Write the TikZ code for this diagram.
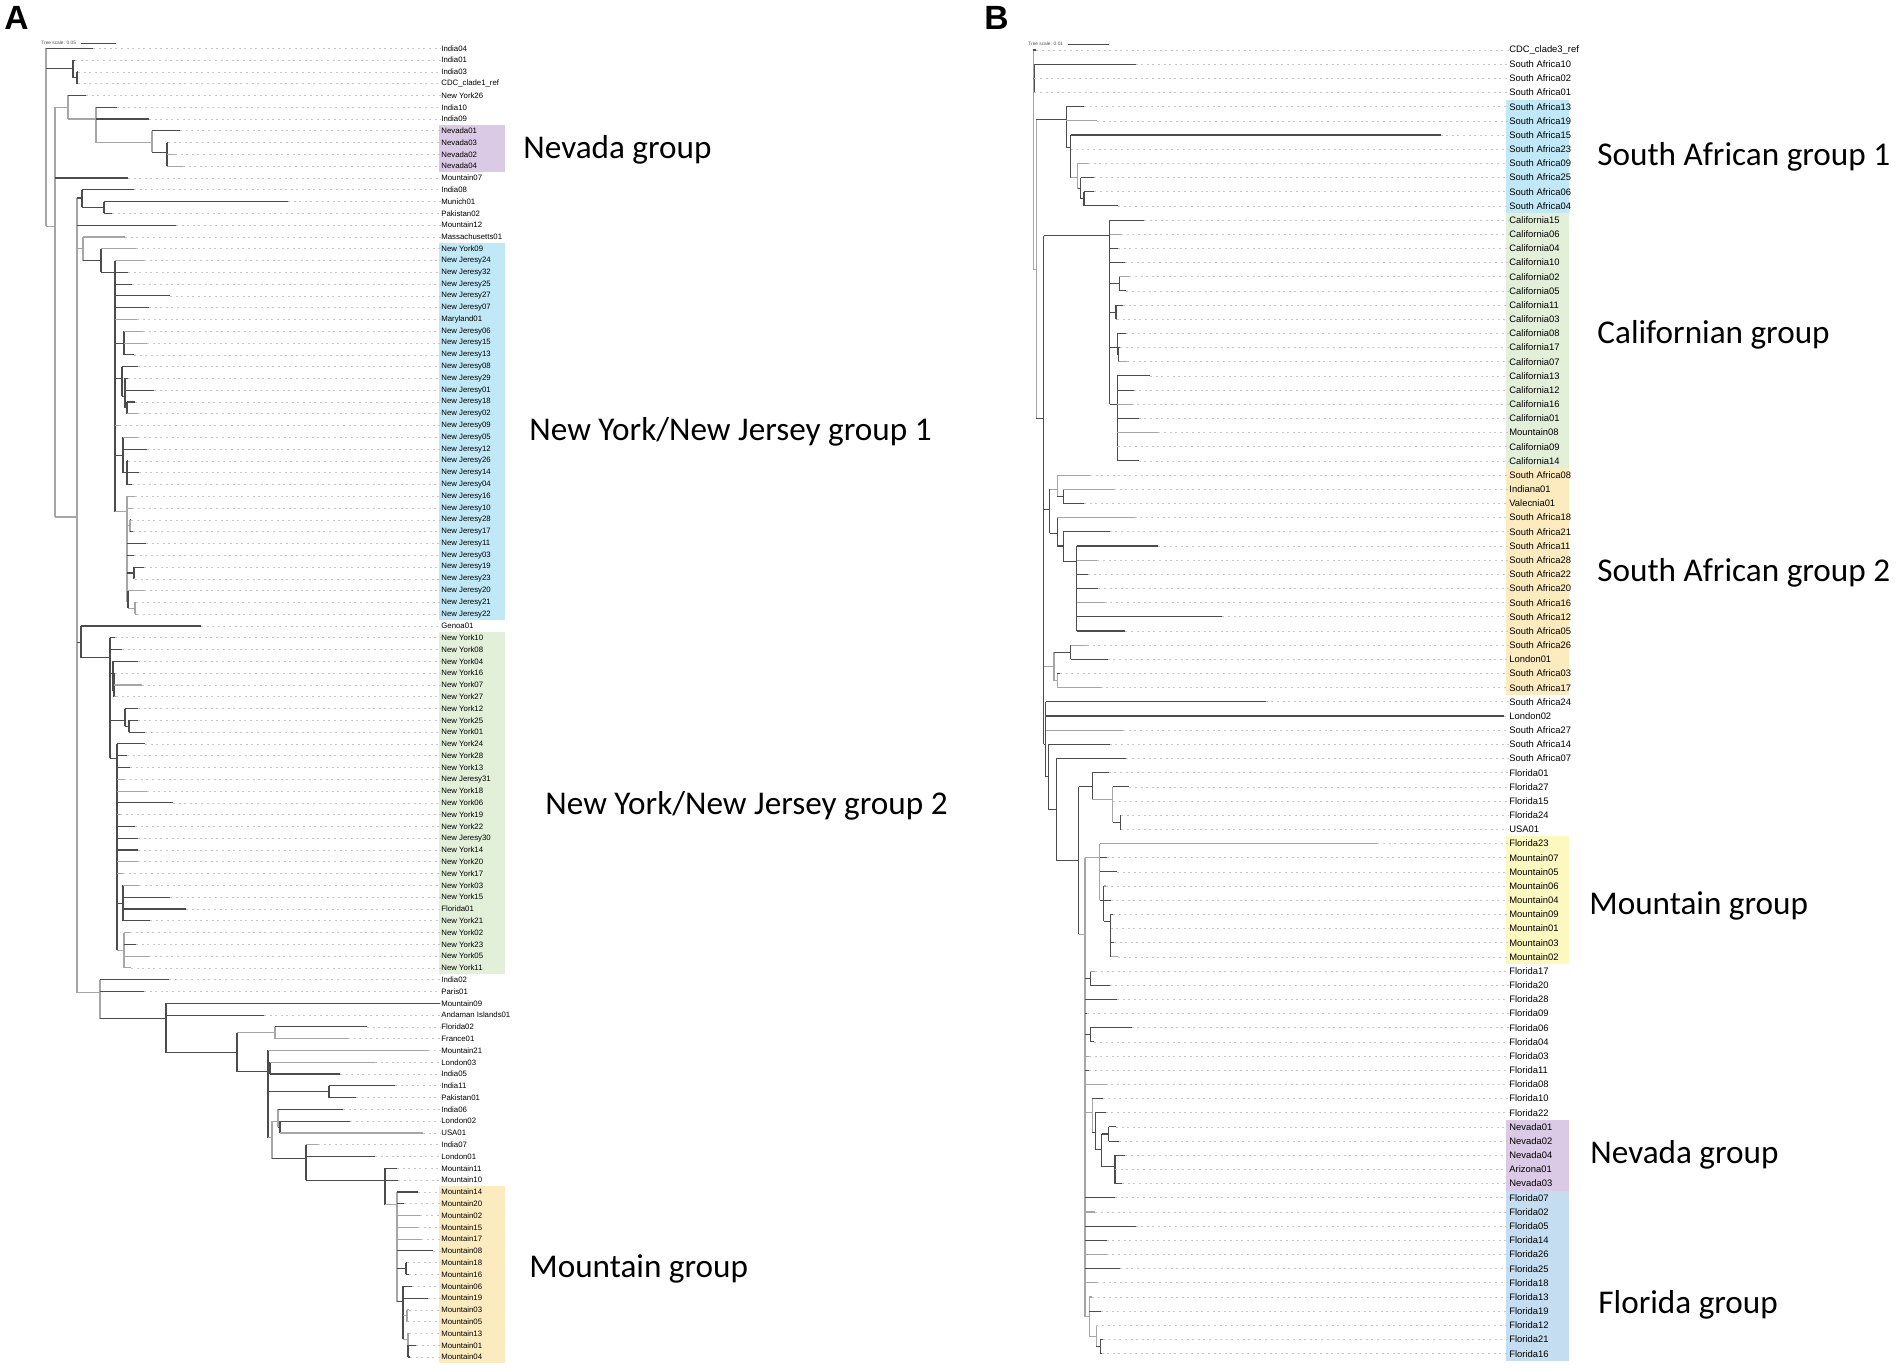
\documentclass[tikz,border=0pt]{standalone}
\usepackage{fontspec}
\setmainfont{Liberation Sans}
\newfontfamily\grpfont{Carlito}
\usetikzlibrary{positioning}

\definecolor{grpPurple}{HTML}{DBCAE5}
\definecolor{grpCyan}{HTML}{C0E8F6}
\definecolor{grpGreen}{HTML}{E2EFD9}
\definecolor{grpOrange}{HTML}{FDEBC0}
\definecolor{grpYellow}{HTML}{FCF8BF}
\definecolor{grpBlue}{HTML}{C5DDF0}

\tikzset{
  br/.style={draw=black!70, line width=0.55pt},
  brl/.style={draw=black!35, line width=0.55pt},
  dots/.style={draw=black!22, line width=0.35pt, dash pattern=on 1pt off 1.8pt},
  grp/.style={anchor=west, inner sep=0pt, font=\grpfont\fontsize{16.6}{18}\selectfont},
  panel/.style={anchor=west, inner sep=0pt, font=\bfseries\fontsize{16.8}{18}\selectfont},
  scaletxt/.style={anchor=west, inner sep=0pt, font=\fontsize{2.4}{3}\selectfont, text=black!70}
}

% leaf: [style]{name}{parent x}{tip x}{row}{text}
\newcommand{\lf}[6][br]{%
  \draw[#1] (#3,#5) -- (#4,#5);
  \node[leaf] (#2) at (\labx,#5) {#6};
  \draw[dots] (#4,#5) -- (#2.west);}
% clade: [style]{parent x}{x}{row}{top row}{bottom row}
\newcommand{\nd}[6][br]{%
  \draw[#1] (#2,#4) -- (#3,#4) (#3,#5) -- (#3,#6);}

\begin{document}
\begin{tikzpicture}[x=0.5pt, y=-0.5pt]
\useasboundingbox (0,0) rectangle (1902,1367);

\node[panel] (pA) at (4,18) {A};
\node[panel] (pB) at (984,18) {B};

\node[scaletxt] (scaleA) at (41,43) {Tree scale: 0.05};
\coordinate (scaleAend) at (116,43);
\draw[br, line width=0.4pt] ([xshift=2.5pt]scaleA.east) -- (scaleAend);
\node[scaletxt] (scaleB) at (1028,44) {Tree scale: 0.01};
\coordinate (scaleBend) at (1109,44);
\draw[br, line width=0.4pt] ([xshift=2.5pt]scaleB.east) -- (scaleBend);

%% panel A
\def\labx{441}
\begin{scope}[y=-5.895pt, yshift=-24.15pt, leaf/.style={anchor=west, inner sep=0pt, font=\fontsize{3.9}{4}\selectfont}]
\fill[grpPurple] (439.3,6.5) rectangle (505,10.5);
\fill[grpCyan] (439.3,16.5) rectangle (505,48.5);
\fill[grpGreen] (439.3,49.5) rectangle (505,78.5);
\fill[grpOrange] (439.3,96.5) rectangle (505,111.5);

\draw[brl] (46,0) -- (46,15.1);
\lf{aIndia04}{46}{93}{0}{India04}
\nd{46}{73}{1.75}{1}{2.5}
\lf{aIndia01}{73}{75}{1}{India01}
\nd{73}{77}{2.5}{2}{3}
\lf{aIndia03}{77}{78}{2}{India03}
\lf{aCDC}{77}{78}{3}{CDC\_clade1\_ref}
\nd[brl]{46}{55}{15.1}{5}{39.75}
\nd[brl]{55}{68}{5}{4}{6}
\lf{aNY26}{68}{86}{4}{New York26}
\nd[brl]{68}{96}{6}{5}{8}
\lf{aIndia10}{96}{117}{5}{India10}
\lf{aIndia09}{96}{149}{6}{India09}
\nd[brl]{96}{152}{8}{7}{8.8}
\lf{aNev01}{152}{180}{7}{Nevada01}
\nd{152}{167}{8.8}{8}{10}
\lf{aNev03}{167}{168}{8}{Nevada03}
\lf[brl]{aNev02}{167}{175}{9}{Nevada02}
\lf[brl]{aNev04}{167}{183}{10}{Nevada04}
\lf{aMtn07}{55}{128}{11}{Mountain07}
\nd[brl]{55}{77}{39.75}{12.7}{80.1}
\nd{77}{82}{12.7}{12}{13.5}
\lf{aIndia08}{82}{134}{12}{India08}
\nd{82}{104}{13.5}{13}{14}
\lf{aMunich01}{104}{288}{13}{Munich01}
\lf{aPak02}{104}{112}{14}{Pakistan02}
\lf{aMtn12}{77}{176}{15}{Mountain12}
\nd[brl]{77}{83}{17}{16}{18}
\lf[brl]{aMass01}{83}{125}{16}{Massachusetts01}
\nd{83}{101}{18}{17}{19}
\lf[brl]{aNY09}{101}{136}{17}{New York09}
\nd{101}{115}{19}{18}{39.3}
\lf[brl]{aNJ24}{115}{144}{18}{New Jeresy24}
\lf{aNJ32}{115}{128}{19}{New Jeresy32}
\lf{aNJ25}{115}{132}{20}{New Jeresy25}
\lf{aNJ27}{115}{170}{21}{New Jeresy27}
\lf{aNJ07}{115}{149}{22}{New Jeresy07}
\lf[brl]{aMD01}{115}{137}{23}{Maryland01}
\nd{115}{124}{25}{24}{26}
\lf[brl]{aNJ06}{124}{143}{24}{New Jeresy06}
\lf[brl]{aNJ15}{124}{147}{25}{New Jeresy15}
\lf{aNJ13}{124}{134}{26}{New Jeresy13}
\nd{115}{122}{28}{27}{29.5}
\lf{aNJ08}{122}{138}{27}{New Jeresy08}
\nd{122}{125}{29.5}{28}{30.5}
\lf{aNJ29}{125}{128}{28}{New Jeresy29}
\lf{aNJ01}{125}{154}{29}{New Jeresy01}
\nd{125}{127}{30.5}{30}{31}
\lf{aNJ18}{127}{135}{30}{New Jeresy18}
\lf[brl]{aNJ02}{127}{138}{31}{New Jeresy02}
\lf[brl]{aNJ09}{115}{119}{32}{New Jeresy09}
\nd{115}{123}{34.5}{33}{36}
\lf[brl]{aNJ05}{123}{138}{33}{New Jeresy05}
\lf{aNJ12}{123}{147}{34}{New Jeresy12}
\nd{123}{127}{36}{35}{37}
\lf{aNJ26}{127}{128}{35}{New Jeresy26}
\lf{aNJ14}{127}{139}{36}{New Jeresy14}
\lf{aNJ04}{127}{132}{37}{New Jeresy04}
\nd[brl]{115}{127}{39.3}{38}{47}
\lf[brl]{aNJ16}{127}{135}{38}{New Jeresy16}
\lf[brl]{aNJ10}{127}{132}{39}{New Jeresy10}
\nd[brl]{127}{130}{40.5}{40}{41}
\lf{aNJ28}{130}{131}{40}{New Jeresy28}
\lf{aNJ17}{130}{133}{41}{New Jeresy17}
\lf{aNJ11}{127}{146}{42}{New Jeresy11}
\lf{aNJ03}{127}{134}{43}{New Jeresy03}
\nd{127}{134}{44.5}{44}{45}
\lf{aNJ19}{134}{144}{44}{New Jeresy19}
\lf[brl]{aNJ23}{134}{135}{45}{New Jeresy23}
\nd{127}{128}{47}{46}{47.5}
\lf[brl]{aNJ20}{128}{144}{46}{New Jeresy20}
\nd[brl]{128}{135}{47.5}{47}{48}
\lf[brl]{aNJ21}{135}{136}{47}{New Jeresy21}
\lf[brl]{aNJ22}{135}{137}{48}{New Jeresy22}
\nd{77}{81}{50.4}{49}{51.7}
\lf{aGenoa01}{81}{201}{49}{Genoa01}
\nd{81}{110}{51.7}{50}{60.2}
\lf{aNY10}{110}{115}{50}{New York10}
\lf{aNY08}{110}{122}{51}{New York08}
\nd{110}{113}{53}{52}{54.5}
\lf{aNY04}{113}{138}{52}{New York04}
\nd{113}{114}{54.5}{53}{55}
\lf{aNY16}{114}{115}{53}{New York16}
\lf[brl]{aNY07}{114}{142}{54}{New York07}
\lf[brl]{aNY27}{114}{116}{55}{New York27}
\nd{110}{125}{57}{56}{57.5}
\lf{aNY12}{125}{138}{56}{New York12}
\nd{125}{129}{57.5}{57}{58}
\lf{aNY25}{129}{138}{57}{New York25}
\lf{aNY01}{129}{145}{58}{New York01}
\nd{110}{117}{60.2}{59}{76.5}
\lf{aNY24}{117}{145}{59}{New York24}
\lf{aNY28}{117}{127}{60}{New York28}
\lf{aNY13}{117}{130}{61}{New York13}
\lf[brl]{aNJ31}{117}{124}{62}{New Jeresy31}
\lf[brl]{aNY18}{117}{147}{63}{New York18}
\lf{aNY06}{117}{173}{64}{New York06}
\lf[brl]{aNY19}{117}{120}{65}{New York19}
\lf{aNY22}{117}{135}{66}{New York22}
\lf{aNJ30}{117}{138}{67}{New Jeresy30}
\lf{aNY14}{117}{138}{68}{New York14}
\lf[brl]{aNY20}{117}{138}{69}{New York20}
\lf[brl]{aNY17}{117}{123}{70}{New York17}
\nd{117}{123}{72.5}{71}{74}
\lf[brl]{aNY03}{123}{139}{71}{New York03}
\lf{aNY15}{123}{170}{72}{New York15}
\lf{aFL01}{123}{186}{73}{Florida01}
\lf{aNY21}{123}{150}{74}{New York21}
\nd[brl]{117}{124}{76.5}{75}{78}
\lf[brl]{aNY02}{124}{130}{75}{New York02}
\lf{aNY23}{124}{136}{76}{New York23}
\lf[brl]{aNY05}{124}{149}{77}{New York05}
\lf[brl]{aNY11}{124}{131}{78}{New York11}
\nd[brl]{77}{100}{80.1}{79}{82.3}
\lf{aIndia02}{100}{169}{79}{India02}
\lf{aParis01}{100}{144}{80}{Paris01}
\nd{100}{166}{82.3}{81}{85.2}
\lf{aMtn09}{166}{440}{81}{Mountain09}
\lf{aAndaman}{166}{264}{82}{Andaman Islands01}
\nd{166}{237}{85.2}{83.5}{86.8}
\nd[brl]{237}{275}{83.5}{83}{84}
\lf{aFL02}{275}{367}{83}{Florida02}
\lf[brl]{aFrance01}{275}{348}{84}{France01}
\nd{237}{268}{86.8}{85}{92.4}
\lf[brl]{aMtn21}{268}{428}{85}{Mountain21}
\nd{268}{270}{86.5}{86}{87}
\lf[brl]{aLon03}{270}{375}{86}{London03}
\lf{aIndia05}{270}{340}{87}{India05}
\nd{268}{329}{88.5}{88}{89}
\lf{aIndia11}{329}{395}{88}{India11}
\lf{aPak01}{329}{356}{89}{Pakistan01}
\nd[brl]{268}{272}{92.4}{91}{94.2}
\nd[brl]{272}{278}{91}{90}{91.5}
\lf{aIndia06}{278}{343}{90}{India06}
\nd{278}{280}{91.5}{91}{92}
\lf{aLon02}{280}{350}{91}{London02}
\lf[brl]{aUSA01}{280}{423}{92}{USA01}
\nd{272}{306}{94.2}{93}{96}
\lf[brl]{aIndia07}{306}{318}{93}{India07}
\lf{aLon01}{306}{375}{94}{London01}
\nd{306}{385}{96}{95}{98.1}
\lf{aMtn11}{385}{397}{95}{Mountain11}
\lf{aMtn10}{385}{398}{96}{Mountain10}
\nd[brl]{385}{397}{98.1}{97}{106.3}
\lf{aMtn14}{397}{418}{97}{Mountain14}
\lf{aMtn20}{397}{404}{98}{Mountain20}
\lf[brl]{aMtn02}{397}{420}{99}{Mountain02}
\lf[brl]{aMtn15}{397}{418}{100}{Mountain15}
\lf[brl]{aMtn17}{397}{421}{101}{Mountain17}
\lf{aMtn08}{397}{433}{102}{Mountain08}
\nd{397}{406}{103.5}{103}{104}
\lf{aMtn18}{406}{407}{103}{Mountain18}
\lf{aMtn16}{406}{409}{104}{Mountain16}
\nd{397}{403}{106.3}{105}{109.5}
\lf{aMtn06}{403}{412}{105}{Mountain06}
\lf{aMtn19}{403}{428}{106}{Mountain19}
\nd[brl]{403}{407}{107.5}{107}{108}
\lf[brl]{aMtn03}{407}{409}{107}{Mountain03}
\lf[brl]{aMtn05}{407}{407}{108}{Mountain05}
\nd[brl]{403}{408}{109.5}{109}{110.5}
\lf[brl]{aMtn13}{408}{409}{109}{Mountain13}
\nd{408}{408}{110.5}{110}{111}
\lf{aMtn01}{408}{416}{110}{Mountain01}
\lf{aMtn04}{408}{410}{111}{Mountain04}
\end{scope}

%% panel B
\def\labx{1493.3}
\begin{scope}[x=0.51667pt, xshift=-17.033pt, y=-7.085pt, yshift=-25pt, leaf/.style={anchor=west, inner sep=0pt, font=\fontsize{4.7}{5}\selectfont}]
\fill[grpCyan] (1490,3.5) rectangle (1551.3,11.5);
\fill[grpGreen] (1490,11.5) rectangle (1551.3,29.5);
\fill[grpOrange] (1490,29.5) rectangle (1551.3,45.5);
\fill[grpYellow] (1490,55.5) rectangle (1551.3,64.5);
\fill[grpPurple] (1490,75.5) rectangle (1551.3,80.5);
\fill[grpBlue] (1490,80.5) rectangle (1551.3,92.5);

\draw[brl] (1033,0) -- (1033,15.5);
\lf{bCDC}{1033}{1036}{0}{CDC\_clade3\_ref}
\nd{1033}{1034}{2}{1}{3}
\lf{bSA10}{1034}{1132}{1}{South Africa10}
\lf{bSA02}{1034}{1034}{2}{South Africa02}
\lf{bSA01}{1034}{1034}{3}{South Africa01}
\nd[brl]{1033}{1036}{15.5}{4.9}{26}
\nd{1036}{1065}{4.9}{4}{6.9}
\lf{bSA13}{1065}{1082}{4}{South Africa13}
\lf[brl]{bSA19}{1065}{1095}{5}{South Africa19}
\nd{1065}{1069}{6.9}{6}{9}
\lf{bSA15}{1069}{1427}{6}{South Africa15}
\lf{bSA23}{1069}{1069}{7}{South Africa23}
\nd[brl]{1069}{1076}{9}{8}{9.8}
\lf[brl]{bSA09}{1076}{1086}{8}{South Africa09}
\nd{1076}{1079}{9.8}{9}{10.5}
\lf{bSA25}{1079}{1092}{9}{South Africa25}
\nd{1079}{1082}{10.5}{10}{11}
\lf{bSA06}{1082}{1092}{10}{South Africa06}
\lf{bSA04}{1082}{1115}{11}{South Africa04}
\nd{1036}{1043}{26}{13.1}{49}
\nd{1043}{1107}{13.1}{12}{25}
\lf{bCal15}{1107}{1140}{12}{California15}
\lf[brl]{bCal06}{1107}{1118}{13}{California06}
\lf{bCal04}{1107}{1115}{14}{California04}
\lf{bCal10}{1107}{1122}{15}{California10}
\nd{1107}{1116}{16.5}{16}{17}
\lf[brl]{bCal02}{1116}{1126}{16}{California02}
\lf{bCal05}{1116}{1123}{17}{California05}
\nd{1107}{1113}{18.5}{18}{19}
\lf{bCal11}{1113}{1120}{18}{California11}
\lf[brl]{bCal03}{1113}{1114}{19}{California03}
\nd{1107}{1114}{21}{20}{21.5}
\lf{bCal08}{1114}{1123}{20}{California08}
\nd{1114}{1115}{21.5}{21}{22}
\lf{bCal17}{1115}{1117}{21}{California17}
\lf[brl]{bCal07}{1115}{1124}{22}{California07}
\nd{1107}{1114}{25}{23}{29}
\lf{bCal13}{1114}{1146}{23}{California13}
\lf{bCal12}{1114}{1130}{24}{California12}
\lf[brl]{bCal16}{1114}{1128}{25}{California16}
\lf{bCal01}{1114}{1135}{26}{California01}
\lf[brl]{bMtn08}{1114}{1154}{27}{Mountain08}
\lf[brl]{bCal09}{1114}{1115}{28}{California09}
\lf{bCal14}{1114}{1135}{29}{California14}
\nd{1043}{1049}{32.4}{31}{34.1}
\nd[brl]{1049}{1056}{31}{30}{31.5}
\lf[brl]{bSA08}{1056}{1088}{30}{South Africa08}
\nd{1056}{1062}{31.5}{31}{32}
\lf[brl]{bIndiana01}{1062}{1111}{31}{Indiana01}
\lf{bValecnia01}{1062}{1082}{32}{Valecnia01}
\nd{1049}{1056}{34.1}{33}{35}
\lf[brl]{bSA18}{1056}{1131}{33}{South Africa18}
\nd{1056}{1062}{35}{34}{36.1}
\lf{bSA21}{1062}{1107}{34}{South Africa21}
\nd{1062}{1075}{36.1}{35}{41}
\lf{bSA11}{1075}{1154}{35}{South Africa11}
\lf[brl]{bSA28}{1075}{1095}{36}{South Africa28}
\lf{bSA22}{1075}{1086}{37}{South Africa22}
\lf{bSA20}{1075}{1096}{38}{South Africa20}
\lf[brl]{bSA16}{1075}{1102}{39}{South Africa16}
\lf{bSA12}{1075}{1216}{40}{South Africa12}
\lf{bSA05}{1075}{1122}{41}{South Africa05}
\nd[brl]{1043}{1053}{43.5}{42.5}{44.5}
\nd{1053}{1069}{42.5}{42}{43}
\lf[brl]{bSA26}{1069}{1085}{42}{South Africa26}
\lf{bLon01}{1069}{1105}{43}{London01}
\nd[brl]{1053}{1056}{44.5}{44}{45}
\lf{bSA03}{1056}{1059}{44}{South Africa03}
\lf[brl]{bSA17}{1056}{1098}{45}{South Africa17}
\nd{1043}{1045}{49}{46}{51.3}
\lf{bSA24}{1045}{1258}{46}{South Africa24}
\lf{bLon02}{1045}{1488}{47}{London02}
\lf[brl]{bSA27}{1045}{1120}{48}{South Africa27}
\nd{1045}{1048}{51.3}{49}{53.6}
\lf{bSA14}{1048}{1107}{49}{South Africa14}
\nd{1048}{1055}{53.6}{50}{57.2}
\lf{bSA07}{1055}{1123}{50}{South Africa07}
\nd{1055}{1077}{57.2}{52}{62.4}
\nd{1077}{1090}{52}{51}{52.9}
\lf{bFL01}{1090}{1106}{51}{Florida01}
\nd[brl]{1090}{1110}{52.9}{52}{54.5}
\lf{bFL27}{1110}{1126}{52}{Florida27}
\lf{bFL15}{1110}{1110}{53}{Florida15}
\nd{1110}{1117}{54.5}{54}{55}
\lf{bFL24}{1117}{1118}{54}{Florida24}
\lf{bUSA01}{1117}{1118}{55}{USA01}
\nd[brl]{1077}{1083}{62.4}{57}{89.4}
\nd[brl]{1083}{1097}{57}{56}{60}
\lf[brl]{bFL23}{1097}{1366}{56}{Florida23}
\lf{bMtn07}{1097}{1104}{57}{Mountain07}
\lf{bMtn05}{1097}{1114}{58}{Mountain05}
\nd{1097}{1101}{60}{59}{61.5}
\lf[brl]{bMtn06}{1101}{1103}{59}{Mountain06}
\lf{bMtn04}{1101}{1108}{60}{Mountain04}
\nd{1101}{1108}{61.5}{61}{63.5}
\lf{bMtn09}{1108}{1110}{61}{Mountain09}
\lf[brl]{bMtn01}{1108}{1108}{62}{Mountain01}
\nd{1108}{1108}{63.5}{63}{64}
\lf{bMtn03}{1108}{1111}{63}{Mountain03}
\lf[brl]{bMtn02}{1108}{1115}{64}{Mountain02}
\nd{1083}{1088}{65.5}{65}{66}
\lf[brl]{bFL17}{1088}{1093}{65}{Florida17}
\lf{bFL20}{1088}{1107}{66}{Florida20}
\lf{bFL28}{1083}{1114}{67}{Florida28}
\lf{bFL09}{1083}{1085}{68}{Florida09}
\nd{1083}{1088}{69.5}{69}{70}
\lf{bFL06}{1088}{1128}{69}{Florida06}
\lf{bFL04}{1088}{1092}{70}{Florida04}
\lf[brl]{bFL03}{1083}{1087}{71}{Florida03}
\lf{bFL11}{1083}{1087}{72}{Florida11}
\lf[brl]{bFL08}{1083}{1103}{73}{Florida08}
\nd[brl]{1083}{1090}{75}{74}{76.4}
\lf{bFL10}{1090}{1100}{74}{Florida10}
\nd{1090}{1093}{76.4}{75}{77.6}
\lf{bFL22}{1093}{1103}{75}{Florida22}
\nd{1093}{1099}{77.6}{76.5}{78.8}
\nd{1099}{1106}{76.5}{76}{77}
\lf{bNev01}{1106}{1113}{76}{Nevada01}
\lf{bNev02}{1106}{1116}{77}{Nevada02}
\nd{1099}{1112}{78.8}{78}{80}
\lf{bNev04}{1112}{1122}{78}{Nevada04}
\lf{bAZ01}{1112}{1112}{79}{Arizona01}
\lf{bNev03}{1112}{1119}{80}{Nevada03}
\lf{bFL07}{1083}{1112}{81}{Florida07}
\lf[brl]{bFL02}{1083}{1093}{82}{Florida02}
\lf{bFL05}{1083}{1132}{83}{Florida05}
\lf{bFL14}{1083}{1104}{84}{Florida14}
\lf[brl]{bFL26}{1083}{1104}{85}{Florida26}
\lf{bFL25}{1083}{1117}{86}{Florida25}
\lf[brl]{bFL18}{1083}{1095}{87}{Florida18}
\nd[brl]{1083}{1087}{89.4}{88}{90.8}
\lf[brl]{bFL13}{1087}{1090}{88}{Florida13}
\lf{bFL19}{1087}{1098}{89}{Florida19}
\nd[brl]{1087}{1094}{90.8}{90}{91.5}
\lf[brl]{bFL12}{1094}{1094}{90}{Florida12}
\nd{1094}{1098}{91.5}{91}{92}
\lf{bFL21}{1098}{1100}{91}{Florida21}
\lf{bFL16}{1098}{1099}{92}{Florida16}
\end{scope}

\node[grp] (gNevA) at (523,150) {Nevada group};
\node[grp] (gNYNJ1) at (529,432) {New York/New Jersey group 1};
\node[grp] (gNYNJ2) at (545,806) {New York/New Jersey group 2};
\node[grp] (gMtnA) at (529,1269) {Mountain group};
\node[grp] (gSA1) at (1597,157) {South African group 1};
\node[grp] (gCal) at (1597,335) {Californian group};
\node[grp] (gSA2) at (1597,573) {South African group 2};
\node[grp] (gMtnB) at (1589,906) {Mountain group};
\node[grp] (gNevB) at (1590,1155) {Nevada group};
\node[grp] (gFL) at (1598,1305) {Florida group};
\end{tikzpicture}
\end{document}
